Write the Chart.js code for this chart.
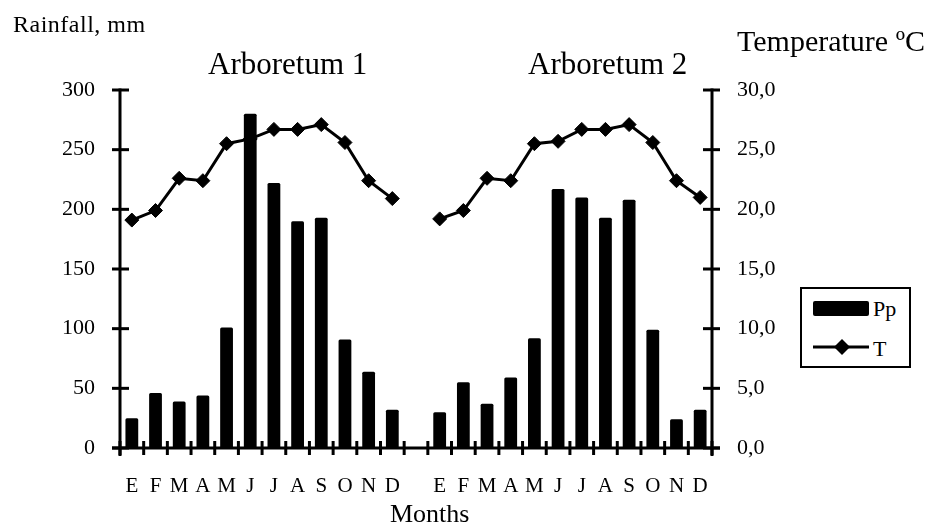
<!DOCTYPE html>
<html>
<head>
<meta charset="utf-8">
<script src="https://cdn.jsdelivr.net/npm/chart.js@4.4.1/dist/chart.umd.min.js"></script>
<style>
html,body{margin:0;padding:0;background:#fff;}
#wrap{position:relative;width:928px;height:526px;overflow:hidden;}
canvas{position:absolute;left:0;top:0;}
.t{position:absolute;font-family:'Liberation Serif','Times New Roman',serif;color:#000;white-space:nowrap;line-height:1;}
#legend{position:absolute;left:800px;top:287px;width:107px;height:77px;border:2px solid #000;background:#fff;}
</style>
</head>
<body>
<div id="wrap">
  <canvas id="c" width="928" height="526"></canvas>
  <div class="t" style="left:13px;top:12px;font-size:24px;letter-spacing:0.5px;">Rainfall, mm</div>
  <div class="t" style="right:3px;top:26px;font-size:30px;">Temperature ºC</div>
  <div class="t" style="left:208px;top:48px;font-size:31px;">Arboretum 1</div>
  <div class="t" style="left:528px;top:48px;font-size:31px;">Arboretum 2</div>
  <div class="t" style="left:390px;top:501px;font-size:26px;">Months</div>
  <div id="legend">
    <div style="position:absolute;left:11px;top:12px;width:56px;height:15px;background:#000;border-radius:2px;"></div>
    <div class="t" style="left:71px;top:9px;font-size:22px;">Pp</div>
    <svg style="position:absolute;left:11px;top:49px;" width="58" height="18">
      <line x1="0" y1="9" x2="56" y2="9" stroke="#000" stroke-width="3"/>
      <polygon points="29,1 37,9 29,17 21,9" fill="#000"/>
    </svg>
    <div class="t" style="left:71px;top:49px;font-size:22px;">T</div>
  </div>
</div>
<script>
// ---- data ----
const months = ['E','F','M','A','M','J','J','A','S','O','N','D'];
const rain1 = [25, 46, 39, 44, 101, 280, 222, 190, 193, 91, 64, 32];
const rain2 = [30, 55, 37, 59, 92, 217, 210, 193, 208, 99, 24, 32];
const temp1 = [19.1, 19.9, 22.6, 22.4, 25.5, 25.9, 26.7, 26.7, 27.1, 25.6, 22.4, 20.9];
const temp2 = [19.2, 19.9, 22.6, 22.4, 25.5, 25.7, 26.7, 26.7, 27.1, 25.6, 22.4, 21.0];
const rainTicks = [0, 50, 100, 150, 200, 250, 300];
const tempTicks = [0, 5, 10, 15, 20, 25, 30];

// combined series with an empty gap category between the two arboreta
const labels = [...months, '', ...months];
const rainfall = [...rain1, null, ...rain2];
const temperature = [...temp1, null, ...temp2];

Chart.defaults.font.family = "'Liberation Serif','Times New Roman',serif";
Chart.defaults.color = '#000';

const crossAxes = {
  id: 'crossAxes',
  afterDatasetsDraw(chart) {
    const {ctx, chartArea: a, scales: {x, y, y1}} = chart;
    const line = (x1, y1_, x2, y2) => { ctx.beginPath(); ctx.moveTo(x1, y1_); ctx.lineTo(x2, y2); ctx.stroke(); };
    ctx.save();
    ctx.strokeStyle = '#000';
    ctx.lineWidth = 3;
    ctx.lineCap = 'butt';
    const top = y.getPixelForValue(rainTicks[rainTicks.length - 1]);
    const bot = y.getPixelForValue(rainTicks[0]);
    line(a.left, top - 1.5, a.left, bot + 8);
    line(a.right, top - 1.5, a.right, bot + 8);
    line(a.left - 8, bot, a.right + 8, bot);
    rainTicks.forEach(v => { const py = y.getPixelForValue(v); line(a.left - 8, py, a.left + 9, py); });
    tempTicks.forEach(v => { const py = y1.getPixelForValue(v); line(a.right - 9, py, a.right + 8, py); });
    for (let k = 0; k <= labels.length; k++) {
      const px = x.getPixelForValue(k - 0.5);
      line(px, bot - 7, px, bot + 7);
    }
    ctx.restore();
  }
};

new Chart(document.getElementById('c'), {
  data: {
    labels: labels,
    datasets: [
      {
        type: 'bar',
        label: 'Pp',
        data: rainfall,
        yAxisID: 'y',
        backgroundColor: '#000',
        borderWidth: 0,
        borderRadius: 1.5,
        barPercentage: 0.54,
        categoryPercentage: 1.0,
        order: 0
      },
      {
        type: 'line',
        label: 'T',
        data: temperature,
        yAxisID: 'y1',
        borderColor: '#000',
        borderWidth: 3,
        pointStyle: 'rectRot',
        pointRadius: 7,
        pointBorderWidth: 1,
        pointBackgroundColor: '#000',
        pointBorderColor: '#000',
        tension: 0,
        spanGaps: false,
        order: 1
      }
    ]
  },
  options: {
    responsive: false,
    animation: false,
    devicePixelRatio: 1,
    layout: { padding: { top: 90, left: 0, right: 0, bottom: 0 } },
    plugins: { legend: { display: false }, tooltip: { enabled: false } },
    scales: {
      x: {
        type: 'category',
        offset: true,
        grid: { display: false, drawTicks: false },
        border: { display: false },
        ticks: { font: { size: 21 }, padding: 26, maxRotation: 0, autoSkip: false },
        afterFit: s => { s.height = 78; }
      },
      y: {
        position: 'left',
        min: 0, max: 300,
        grid: { display: false, drawTicks: false },
        border: { display: false },
        ticks: { stepSize: 50, font: { size: 22 }, padding: 25 },
        afterFit: s => { s.width = 120; }
      },
      y1: {
        position: 'right',
        min: 0, max: 30,
        grid: { display: false, drawTicks: false },
        border: { display: false },
        ticks: { stepSize: 5, font: { size: 22 }, padding: 25,
          callback: v => v.toFixed(1).replace('.', ',') },
        afterFit: s => { s.width = 216; }
      }
    }
  },
  plugins: [crossAxes]
});
</script>
</body>
</html>
